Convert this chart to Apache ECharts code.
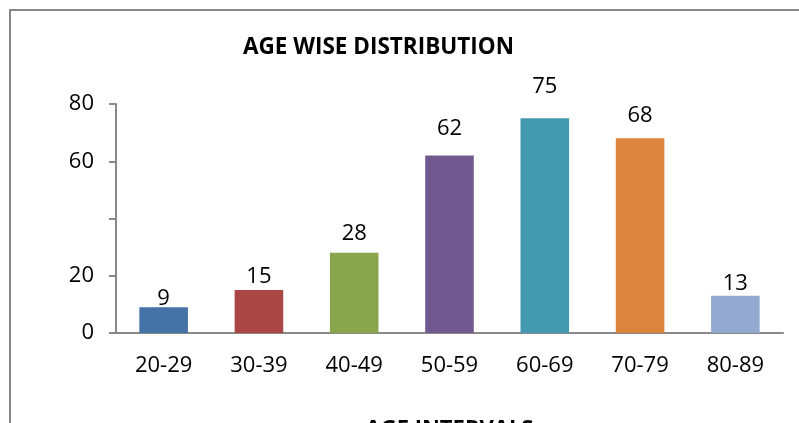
<!DOCTYPE html>
<html>
<head>
<meta charset="utf-8">
<script src="https://cdn.jsdelivr.net/npm/echarts@6/dist/echarts.min.js"></script>
<style>
html,body{margin:0;padding:0;background:#fff;}
#chart{width:799px;height:423px;}
</style>
</head>
<body>
<div id="chart"></div>
<script>
const categories = ['20-29', '30-39', '40-49', '50-59', '60-69', '70-79', '80-89'];
const values = [9, 15, 28, 62, 75, 68, 13];
const barColors = ['#4572A7', '#AA4643', '#89A54E', '#71588F', '#4198AF', '#DB843D', '#93A9CF'];
const yTickLabels = ['0', '20', '', '60', '80'];
const yTickValues = [0, 20, 40, 60, 80];
// per-bar label lift (style only)
const labelGap = [-4, 0, 6, 14, 19, 10, -1];

const FONT = 'Open Sans';
const chart = echarts.init(document.getElementById('chart'));
chart.setOption({
  animation: false,
  backgroundColor: '#fff',
  graphic: [{
    type: 'rect',
    shape: { x: 10, y: 10, width: 900, height: 600 },
    style: { fill: 'none', stroke: '#878787', lineWidth: 2 },
    silent: true
  }],
  title: {
    text: 'AGE WISE DISTRIBUTION',
    left: 238, top: 31,
    textStyle: { fontFamily: FONT, fontWeight: 'bold', fontSize: 22.5, color: '#000' }
  },
  grid: { left: 116, right: 16, top: 104, bottom: 90, containLabel: false, outerBoundsMode: 'none' },
  xAxis: {
    type: 'category',
    data: categories,
    name: 'AGE INTERVALS',
    nameLocation: 'middle',
    nameGap: 85,
    nameTextStyle: { fontFamily: FONT, fontWeight: 'bold', fontSize: 22, color: '#000' },
    axisLine: { lineStyle: { color: '#898989', width: 2 } },
    axisTick: { show: false },
    axisLabel: { fontFamily: FONT, fontSize: 22, color: '#000', margin: 22 }
  },
  yAxis: {
    type: 'value',
    min: yTickValues[0], max: yTickValues[yTickValues.length - 1], interval: 20,
    splitLine: { show: false },
    axisLine: { show: true, lineStyle: { color: '#898989', width: 2 } },
    axisTick: { show: true, length: 7, lineStyle: { color: '#898989', width: 2 } },
    axisLabel: {
      fontFamily: FONT, fontSize: 22, color: '#000', margin: 22,
      formatter: function (v) { const i = yTickValues.indexOf(v); return i >= 0 ? yTickLabels[i] : ''; }
    }
  },
  series: [{
    type: 'bar',
    barWidth: '51%',
    data: values.map((v, i) => ({
      value: v,
      itemStyle: { color: barColors[i] },
      label: { distance: 2 + labelGap[i] }
    })),
    label: {
      show: true, position: 'top',
      fontFamily: FONT, fontSize: 22, color: '#000'
    }
  }]
});
</script>
</body>
</html>
